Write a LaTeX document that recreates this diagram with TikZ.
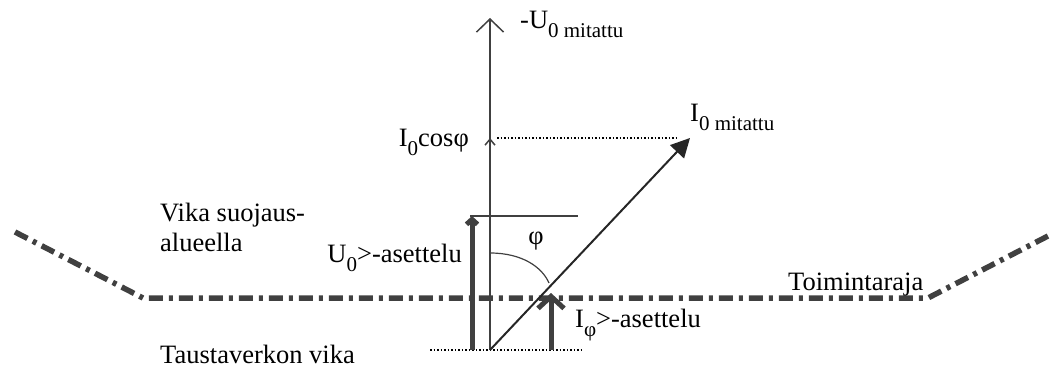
\documentclass[tikz,border=0pt]{standalone}
\usepackage{fontspec}
\setmainfont{Liberation Serif}
\usepackage{xcolor}
\usepackage{tikz}
\usetikzlibrary{arrows.meta}
\definecolor{linegray}{HTML}{404040}
\newcommand{\lowsub}[1]{\raisebox{-9pt}{\fontsize{21}{24}\selectfont #1}}
\tikzset{
  lbl/.style={inner sep=0pt, font=\fontsize{26.5}{30}\selectfont},
  axisline/.style={draw=linegray, line width=1.5pt, -{Straight Barb[length=13pt,width=27pt]}},
  projarrow/.style={draw=linegray, line width=1.5pt, -{Straight Barb[length=6pt,width=10pt]}},
  vecline/.style={draw=black!85, line width=2pt, -{Triangle[length=19pt,width=19pt]}},
  usetarrow/.style={draw=linegray, line width=5pt, -{Straight Barb[length=5pt,width=11pt]}},
  isetarrow/.style={draw=linegray, line width=5pt, -{Straight Barb[length=12pt,width=26pt]}},
  dotline/.style={draw=black, line width=1.2pt, dash pattern=on 1.5pt off 2pt},
  thinline/.style={draw=linegray, line width=1.5pt},
  limitline/.style={draw=linegray, line width=5.5pt, dash pattern=on 14pt off 6pt on 4pt off 6pt}
}
\begin{document}
\begin{tikzpicture}[x=1pt, y=1pt]
\useasboundingbox (0,0) rectangle (1052,367);
\coordinate (O) at (490,17);
\coordinate (utop) at (490,349);
\coordinate (itip) at (690,229);
\coordinate (cosp) at (490,229);
\coordinate (uset) at (472,151);
\coordinate (uset0) at (472,17);
\coordinate (iset) at (551,74);
\coordinate (iset0) at (551,17);
\coordinate (phia) at (490,114);
\coordinate (phib) at (549,84);
% operating limit
\draw[limitline] (15,135) -- (143,69) -- (928,69) -- (1048,131);
% axes and helper lines
\draw[dotline] (430,17) -- (583,17);
\draw[dotline] (497,229) -- (678,229);
\draw[thinline] (470,151) -- (578,151);
\draw[axisline] (O) -- (utop);
\draw[projarrow] (O) -- (cosp);
\draw[vecline] (O) -- (itip);
\draw[thinline, line width=1.2pt] (phia) .. controls (522,114) and (542,100) .. (phib);
\draw[usetarrow] (uset0) -- (uset);
\draw[isetarrow] (iset0) -- (iset);
% labels
\node[lbl, anchor=base west] (uname) at (520,338) {-U\lowsub{0 mitattu}};
\node[lbl, anchor=base west] (iname) at (690,245) {I\lowsub{0 mitattu}};
\node[lbl, anchor=base east] (cosname) at (469,220) {I\lowsub{0}cosφ};
\node[lbl, anchor=base east] (usetname) at (462,104) {U\lowsub{0}>-asettelu};
\node[lbl] (phiname) at (536,126) {φ};
\node[lbl, anchor=base west] (isetname) at (575,40) {I\lowsub{φ}>-asettelu};
\node[lbl, anchor=base west] (limitname) at (788,77) {Toimintaraja};
\node[lbl, anchor=north west, align=left] (insidename) at (160,164) {Vika suojaus-\\alueella};
\node[lbl, anchor=base west] (outsidename) at (160,4) {Taustaverkon vika};
\end{tikzpicture}
\end{document}
